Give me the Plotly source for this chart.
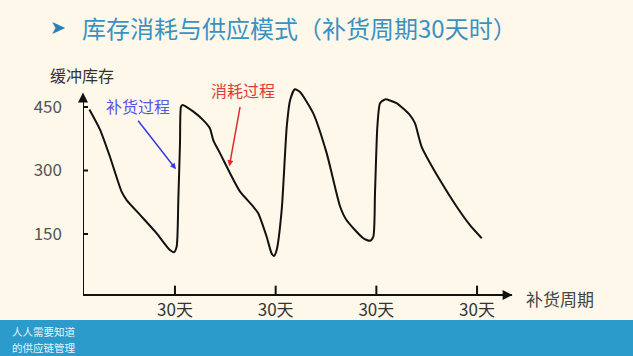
import plotly.graph_objects as go

# ---- data ----
days = [4.5, 7.7, 10.6, 14.1, 15.6, 19.6, 24.5, 28.5, 29.7, 30.5, 31.0, 31.5, 31.8, 32.3,
        35.5, 38.4, 40.4, 41.4, 43.4, 47.4, 49.4, 53.3, 54.8, 57.3, 58.8, 59.5, 60.3,
        61.8, 63.3, 64.3, 65.7, 67.2, 71.2, 75.2, 79.2, 81.1, 86.1, 88.1, 89.1, 89.6,
        90.3, 91.1, 92.6, 96.0, 100.0, 101.5, 103.5, 108.9, 113.9, 117.9, 121.4]
stock = [444, 396, 333, 250, 230, 195, 152, 112, 107, 120, 230, 365, 451, 455,
         439, 419, 400, 372, 341, 278, 250, 215, 199, 144, 104, 98, 112,
         207, 403, 466, 492, 486, 435, 341, 215, 183, 140, 134, 144, 247,
         403, 459, 468, 459, 431, 412, 356, 278, 215, 171, 140]

y_ticks = [150, 300, 450]
y_tick_labels = ["150", "300", "450"]
x_ticks = [30, 60, 90, 120]
x_tick_labels = ["30天", "30天", "30天", "30天"]

title = "库存消耗与供应模式（补货周期30天时）"
y_title = "缓冲库存"
x_title = "补货周期"
note_refill = "补货过程"
note_consume = "消耗过程"
footer_lines = ["人人需要知道", "的供应链管理"]

# ---- layout constants ----
W, H = 633, 356
L, R, T, B = 83, 520, 85, 298
XR = [2.6, 132.8]
YR = [-1.2, 502]
BG = "#fdf8e9"
FONT = "Noto Sans CJK SC"


def xp(px):
    return (px - L) / (R - L)


def yp(py):
    return (B - py) / (B - T)


def txt(px, py, text, size, color, family=FONT, xanchor="center"):
    return dict(xref="paper", yref="paper", x=xp(px), y=yp(py), text=text,
                xanchor=xanchor, yanchor="middle", showarrow=False,
                font=dict(family=family, size=size, color=color))


x_axis_y = 5.9
fig = go.Figure()

# curve
fig.add_trace(go.Scatter(x=days, y=stock, mode="lines",
                         line=dict(color="#111111", width=2, shape="spline", smoothing=0.6),
                         hoverinfo="skip", showlegend=False))

# tick marks built from tick values
tx, ty = [], []
for v in y_ticks:
    tx += [0.2, 4.1, None]
    ty += [v, v, None]
for v in x_ticks:
    tx += [v, v, None]
    ty += [x_axis_y, 28, None]
fig.add_trace(go.Scatter(x=tx, y=ty, mode="lines", line=dict(color="#111111", width=2),
                         hoverinfo="skip", showlegend=False))

# axis lines
fig.add_shape(type="line", x0=XR[0], x1=130.4, y0=x_axis_y, y1=x_axis_y,
              line=dict(color="#111111", width=2))
fig.add_shape(type="line", x0=XR[0], x1=XR[0], y0=x_axis_y, y1=478,
              line=dict(color="#111111", width=2))

ann = []
# axis arrowheads
ann.append(dict(x=130.6, y=x_axis_y, ax=-8, ay=0, text="", showarrow=True,
                arrowhead=2, arrowsize=1, arrowwidth=2, arrowcolor="#111111"))
ann.append(dict(x=XR[0], y=484, ax=0, ay=8, text="", showarrow=True,
                arrowhead=2, arrowsize=1, arrowwidth=2, arrowcolor="#111111"))

# pointer arrows
ann.append(dict(x=30.3, y=303, ax=-39, ay=-50, text="", showarrow=True,
                arrowhead=2, arrowsize=0.8, arrowwidth=1.5, arrowcolor="#3a3ae0"))
ann.append(dict(x=46.2, y=310, ax=11, ay=-61, text="", showarrow=True,
                arrowhead=2, arrowsize=0.8, arrowwidth=1.5, arrowcolor="#e02a2a"))

# texts
ann.append(txt(138, 106, note_refill, 16, "#5656e8"))
ann.append(txt(243, 90, note_consume, 16, "#e23a3a"))
ann.append(txt(82, 75, y_title, 16, "#333333"))
ann.append(txt(524, 298, x_title, 17, "#444444", xanchor="left"))
# title
ann.append(txt(58, 27, "➤", 19, "#2a7fb8", family="DejaVu Sans"))
ann.append(txt(80, 27, title, 24, "#3a92c4", xanchor="left"))
# footer
ann.append(txt(10, 331, footer_lines[0], 10.5, "#e8f4fa", xanchor="left"))
ann.append(txt(10, 347, footer_lines[1], 10.5, "#e8f4fa", xanchor="left"))

fig.add_shape(type="rect", xref="paper", yref="paper", x0=xp(-2), x1=xp(W + 2),
              y0=yp(H + 2), y1=yp(320), line=dict(width=0), fillcolor="#2b9bcb", layer="below")

fig.update_layout(
    width=W, height=H,
    margin=dict(l=L, r=W - R, t=T, b=H - B, pad=0),
    paper_bgcolor=BG, plot_bgcolor=BG,
    showlegend=False,
    annotations=ann,
    xaxis=dict(range=XR, showgrid=False, zeroline=False, showline=False,
               tickmode="array", tickvals=x_ticks, ticktext=x_tick_labels, ticks="",
               tickfont=dict(family=FONT, size=17, color="#333333"),
               ticklabelstandoff=0, fixedrange=True),
    yaxis=dict(range=YR, showgrid=False, zeroline=False, showline=False,
               tickmode="array", tickvals=y_ticks, ticktext=y_tick_labels, ticks="",
               tickfont=dict(family=FONT, size=17, color="#555555"),
               ticklabelstandoff=20, fixedrange=True),
)

fig.write_html("out.html", config={"displayModeBar": False},
               post_script="document.body.style.margin='0';document.body.style.overflow='hidden';")
